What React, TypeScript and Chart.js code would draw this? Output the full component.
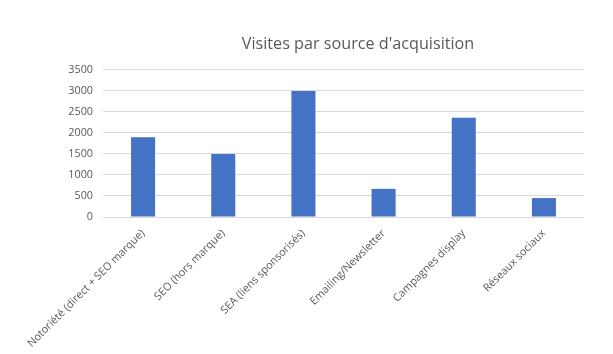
import React, { useEffect, useRef } from "react";
import { Chart, registerables } from "chart.js";

Chart.register(...registerables);

const categories = [
  "Notoriété (direct + SEO marque)",
  "SEO (hors marque)",
  "SEA (liens sponsorisés)",
  "Emailing/Newsletter",
  "Campagnes display",
  "Réseaux sociaux",
];
const visites = [1900, 1500, 3000, 670, 2360, 450];
const titleText = "Visites par source d'acquisition";

const FONT = "'Open Sans', Lato, sans-serif";

const titleShift = {
  id: "titleShift",
  afterLayout(chart: any) {
    const t = chart.titleBlock;
    if (t) {
      t.left = chart.chartArea.left;
      t.right = 613;
    }
  },
};

export default function App() {
  const ref = useRef<HTMLCanvasElement>(null);
  useEffect(() => {
    if (!ref.current) return;
    const chart = new Chart(ref.current, {
      type: "bar",
      data: {
        labels: categories,
        datasets: [
          {
            label: "Visites",
            data: visites,
            backgroundColor: "#4472C4",
            categoryPercentage: 1,
            barPercentage: 0.3,
            yAxisID: "y",
          },
        ],
      },
      plugins: [titleShift],
      options: {
        animation: false,
        responsive: false,
        maintainAspectRatio: false,
        layout: { padding: { left: 0, right: 0, top: 0, bottom: 0 } },
        plugins: {
          legend: { display: false },
          tooltip: { enabled: false },
          title: {
            display: true,
            text: titleText,
            color: "#595959",
            font: { family: FONT, size: 16.2, weight: "normal" },
            padding: { top: 35, bottom: 15.5 },
          },
        },
        scales: {
          x: {
            grid: { display: false },
            border: { display: false },
            ticks: {
              color: "#595959",
              font: { family: FONT, size: 10.8 },
              minRotation: 45,
              maxRotation: 45,
              autoSkip: false,
              padding: 2,
            },
            afterFit: (s: any) => {
              s.height = 354 - 217;
            },
          },
          y: {
            min: 0,
            max: 3500,
            border: { display: false },
            grid: { color: "#d9d9d9", drawTicks: false },
            ticks: {
              stepSize: 500,
              color: "#595959",
              font: { family: FONT, size: 10.8 },
              padding: 10,
              callback: (v: any) => String(v),
            },
            afterFit: (s: any) => {
              s.width = 103;
            },
          },
          yr: {
            position: "right",
            display: true,
            grid: { display: false, drawOnChartArea: false },
            border: { display: false },
            ticks: { display: false },
            afterFit: (s: any) => {
              s.width = 613 - 584;
            },
          },
        },
      },
    });
    return () => chart.destroy();
  }, []);
  return (
    <div style={{ position: "fixed", left: 0, top: 0, width: 613, height: 354 }}>
      <canvas ref={ref} width={613} height={354} />
    </div>
  );
}
